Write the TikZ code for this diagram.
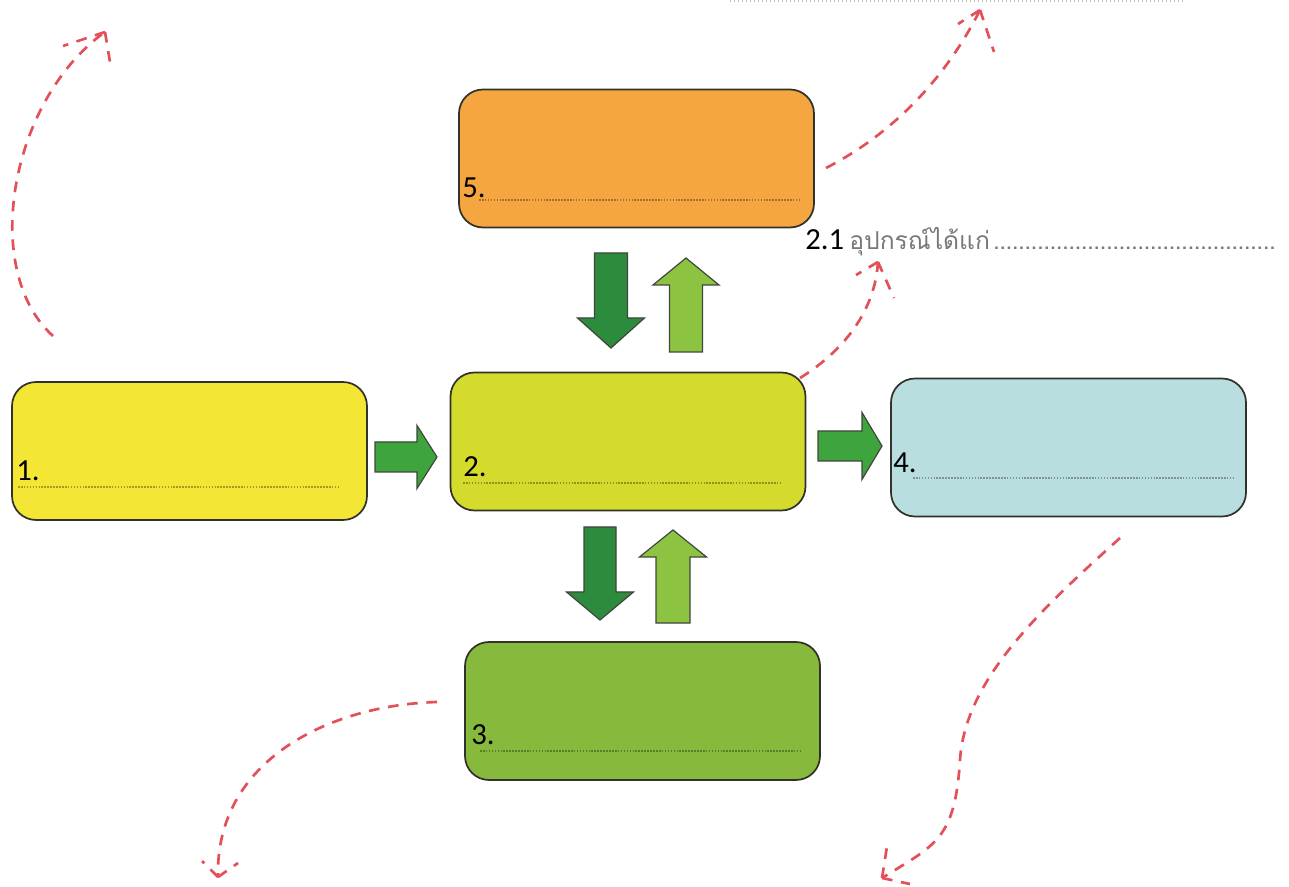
\documentclass[tikz,border=0pt]{standalone}
\usepackage{fontspec}
\setmainfont{Carlito}
\newfontfamily\thaifont[Script=Thai]{Loma}
\usetikzlibrary{calc}
\definecolor{boxline}{RGB}{50,50,45}
\definecolor{fyellow}{RGB}{244,230,52}
\definecolor{flime}{RGB}{212,219,44}
\definecolor{fblue}{RGB}{185,222,223}
\definecolor{forange}{RGB}{245,166,64}
\definecolor{fgreen}{RGB}{135,185,60}
\definecolor{amid}{RGB}{62,164,62}
\definecolor{adark}{RGB}{44,139,60}
\definecolor{alight}{RGB}{140,196,66}
\definecolor{aline}{RGB}{65,70,60}
\definecolor{reddash}{RGB}{228,80,88}
\definecolor{thaigray}{RGB}{120,120,120}
\newcommand\dotleader{\leaders\hbox to 4.7pt{\hss.\hss}\hfill}
\newcommand\blkarrow[7]{%
  \begin{scope}[shift={(#1)},rotate=#2]
    \filldraw[blk,fill=#7] ({-#3/2},{-#4/2}) -- ({#3/2-#6},{-#4/2}) -- ({#3/2-#6},{-#5/2})
      -- ({#3/2},0) -- ({#3/2-#6},{#5/2}) -- ({#3/2-#6},{#4/2}) -- ({-#3/2},{#4/2}) -- cycle;
  \end{scope}}
\tikzset{
  box/.style={draw=boxline, line width=1.3pt, rounded corners=18pt,
    minimum width=266.25pt, minimum height=103.5pt, inner sep=0pt},
  lbl/.style={font=\fontsize{23}{26}\selectfont, anchor=base west, inner sep=0pt, text=black},
  fillline/.style={draw=black, draw opacity=0.33, line width=2.2pt, dash pattern=on 1.2pt off 1pt},
  blk/.style={draw=aline, line width=0.9pt, line join=miter},
  redcurve/.style={draw=reddash, line width=2pt, dash pattern=on 8pt off 6.5pt},
}
\begin{document}
\begin{tikzpicture}[x=0.75pt,y=-0.75pt]
\useasboundingbox[fill=white] (0,0) rectangle (1289,887);

% faint cut-off leader line at the top
\draw[draw=black!25, line width=1.5pt, dash pattern=on 1pt off 2pt] (730,1) -- (1183,1);

% boxes
\node[box, fill=fyellow] (b1) at (189.5,451) {};
\node[box, fill=flime]   (b2) at (628,441.5) {};
\node[box, fill=fblue]   (b4) at (1068.5,447.5) {};
\node[box, fill=forange] (b5) at (636.5,158.5) {};
\node[box, fill=fgreen]  (b3) at (642.5,711) {};

% writing lines
\draw[fillline] (18,487) -- (340,487);
\draw[fillline] (463,483) -- (782,483);
\draw[fillline] (913,478) -- (1233,478);
\draw[fillline] (479,200) -- (800,200);
\draw[fillline] (480,751) -- (800,751);

% labels
\node[lbl] (l1) at (16,481) {1.};
\node[lbl] (l2) at (463,477) {2.};
\node[lbl] (l4) at (893,473) {4.};
\node[lbl] (l5) at (462,198) {5.};
\node[lbl] (l3) at (471,744) {3.};
\node[lbl] (l21) at (805,250) {2.1};
\node[anchor=base west, inner sep=0pt, text=thaigray] (t21) at (849,250)
  {\makebox[323pt][l]{\thaifont\fontsize{18.5}{21}\selectfont อุปกรณ์ได้แก่\dotleader}};

% block arrows
\coordinate (a12) at (406,457);
\coordinate (a24) at (850,446);
\coordinate (a52) at (611,300.5);
\coordinate (a25) at (686,305);
\coordinate (a23) at (600,573.5);
\coordinate (a32) at (673,576.5);
\blkarrow{a12}{0}{62}{30}{63}{20}{amid}
\blkarrow{a24}{0}{64}{30}{67}{20}{amid}
\blkarrow{a52}{-90}{95}{33}{67}{30}{adark}
\blkarrow{a25}{90}{94}{33}{66}{27}{alight}
\blkarrow{a23}{-90}{93}{32}{67}{28}{adark}
\blkarrow{a32}{90}{93}{34}{67}{27}{alight}

% dashed red curves with open heads
\coordinate (c1s) at (53,336);  \coordinate (c1t) at (105,32);
\draw[redcurve] (c1s) .. controls (-20,270) and (10,100) .. (c1t);
\draw[redcurve] (c1t) -- (63,46);
\draw[redcurve] (c1t) -- (111,68);

\coordinate (c2s) at (826,168); \coordinate (c2t) at (980,10);
\draw[redcurve] (c2s) .. controls (900,130) and (950,70) .. (c2t);
\draw[redcurve] (c2t) -- (958,24);
\draw[redcurve] (c2t) -- (994,52);

\coordinate (c3s) at (800,378); \coordinate (c3t) at (878,262);
\draw[redcurve] (c3s) .. controls (845,350) and (875,310) .. (c3t);
\draw[redcurve] (c3t) -- (856,275);
\draw[redcurve] (c3t) -- (894,298);

\coordinate (c4s) at (437,702); \coordinate (c4t) at (218,877);
\draw[redcurve] (c4s) .. controls (330,705) and (215,760) .. (c4t);
\draw[redcurve] (c4t) -- (202,861);
\draw[redcurve] (c4t) -- (238,863);

\coordinate (c5s) at (1120,538); \coordinate (c5m) at (960,760); \coordinate (c5t) at (882,878);
\draw[redcurve] (c5s) .. controls (1040,610) and (965,680) .. (c5m)
  .. controls (955,840) and (935,845) .. (c5t);
\draw[redcurve] (c5t) -- (888,840);
\draw[redcurve] (c5t) -- (910,884);
\end{tikzpicture}
\end{document}
